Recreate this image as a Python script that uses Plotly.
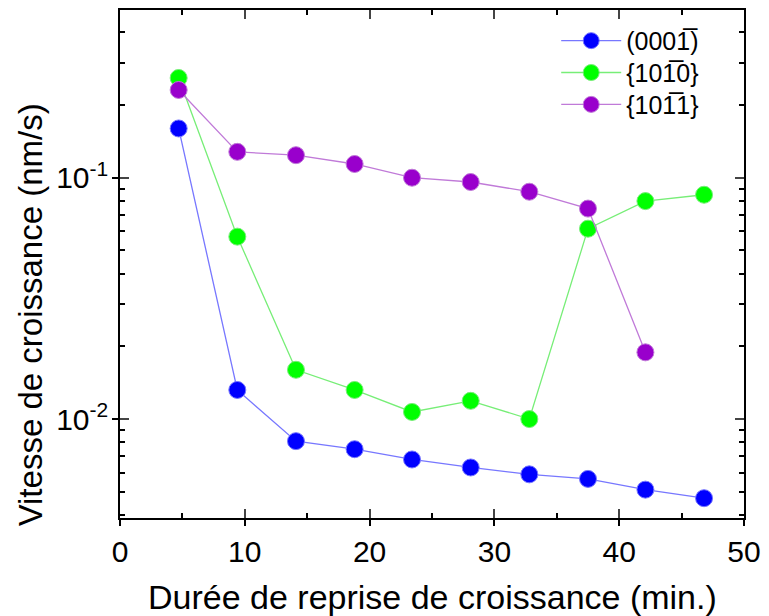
import plotly.graph_objects as go

x_vals = [4.7, 9.4, 14.1, 18.8, 23.4, 28.1, 32.8, 37.5, 42.1, 46.8]
blue_y = [0.16, 0.0132, 0.0081, 0.0075, 0.0068, 0.0063, 0.0059, 0.00565, 0.0051, 0.0047]
green_y = [0.259, 0.057, 0.016, 0.0132, 0.0107, 0.0119, 0.0100, 0.0615, 0.080, 0.085]
purple_y = [0.231, 0.128, 0.124, 0.114, 0.100, 0.096, 0.0875, 0.0745, 0.0189]
names = ["(0001\u0305)", "{101\u03050}", "{101\u03051}"]

FONT = "Liberation Sans, Arial, sans-serif"
W, H = 769, 616
ML, MR, MT, MB = 120, 21, 8, 98
plot_w = W - ML - MR
plot_h = H - MT - MB

fig = go.Figure()
series = [
    (x_vals, blue_y, names[0], "#0000ff", "#7777ff", "legend"),
    (x_vals, green_y, names[1], "#00ff00", "#77ee77", "legend2"),
    (x_vals[:len(purple_y)], purple_y, names[2], "#9900cc", "#c07ad8", "legend3"),
]
for xs, ys, nm, mc, lc, lg in series:
    fig.add_trace(go.Scatter(
        x=xs, y=ys, name=nm, mode="lines+markers", legend=lg,
        line=dict(color=lc, width=1.3),
        marker=dict(color=mc, size=17, line=dict(color=lc, width=1)),
    ))

# overlay axes for outward major ticks
fig.add_trace(go.Scatter(x=[None], y=[None], xaxis="x2", yaxis="y2", showlegend=False))


def leg(row_y):
    return dict(x=(559 - ML) / plot_w, y=1 - (row_y - MT) / plot_h,
                xanchor="left", yanchor="middle",
                bgcolor="rgba(0,0,0,0)", font=dict(size=25),
                itemwidth=60, tracegroupgap=0)


yr = [-2.41, -0.305]
fig.update_layout(
    width=W, height=H,
    margin=dict(l=ML, r=MR, t=MT, b=MB),
    paper_bgcolor="white", plot_bgcolor="white",
    font=dict(family=FONT, size=25, color="black"),
    showlegend=True,
    legend=leg(39), legend2=leg(71), legend3=leg(103),
    xaxis=dict(range=[0, 50], dtick=10, ticks="inside", ticklen=9, tickwidth=1.5,
               showline=True, linecolor="black", linewidth=1.5, mirror="allticks",
               showgrid=False, zeroline=False, ticklabelstandoff=6,
               minor=dict(ticks="inside", ticklen=5, dtick=5, tickcolor="black", tickwidth=1.5),
               tickfont=dict(size=30)),
    yaxis=dict(type="log", range=yr, ticks="inside", ticklen=9, tickwidth=1.5,
               tickvals=[0.01, 0.1], ticktext=["10<sup>-2</sup>", "10<sup>-1</sup>"],
               showline=True, linecolor="black", linewidth=1.5, mirror="allticks",
               showgrid=False, zeroline=False, ticklabelstandoff=4,
               minor=dict(ticks="inside", ticklen=5, tickcolor="black", tickwidth=1.5,
                          tickvals=[0.004,0.005,0.006,0.007,0.008,0.009,0.02,0.03,0.04,0.05,0.06,0.07,0.08,0.09,0.2,0.3,0.4]),
               tickfont=dict(size=30)),
    xaxis2=dict(overlaying="x", range=[0, 50], dtick=10, ticks="outside", ticklen=7,
                tickwidth=1.5, showticklabels=False, showgrid=False, zeroline=False,
                showline=False, anchor="y2", side="bottom", tickcolor="black"),
    yaxis2=dict(overlaying="y", type="log", range=yr, tickvals=[0.01, 0.1], ticks="outside",
                ticklen=7, tickwidth=1.5, showticklabels=False, showgrid=False,
                zeroline=False, showline=False, anchor="x2", side="left", tickcolor="black"),
    annotations=[
        dict(text="Vitesse de croissance (nm/s)", x=(30 - ML) / plot_w,
             y=(H - MB - 314) / plot_h, xref="paper", yref="paper",
             xanchor="center", yanchor="middle",
             showarrow=False, textangle=-90, font=dict(size=33)),
        dict(text="Durée de reprise de croissance (min.)", x=0.5,
             y=(H - MB - 597) / plot_h, xref="paper", yref="paper",
             xanchor="center", showarrow=False, font=dict(size=34), yanchor="middle"),
    ],
)

fig.write_html("out.html", post_script="document.body.style.margin='0';",
               config={"displayModeBar": False})
